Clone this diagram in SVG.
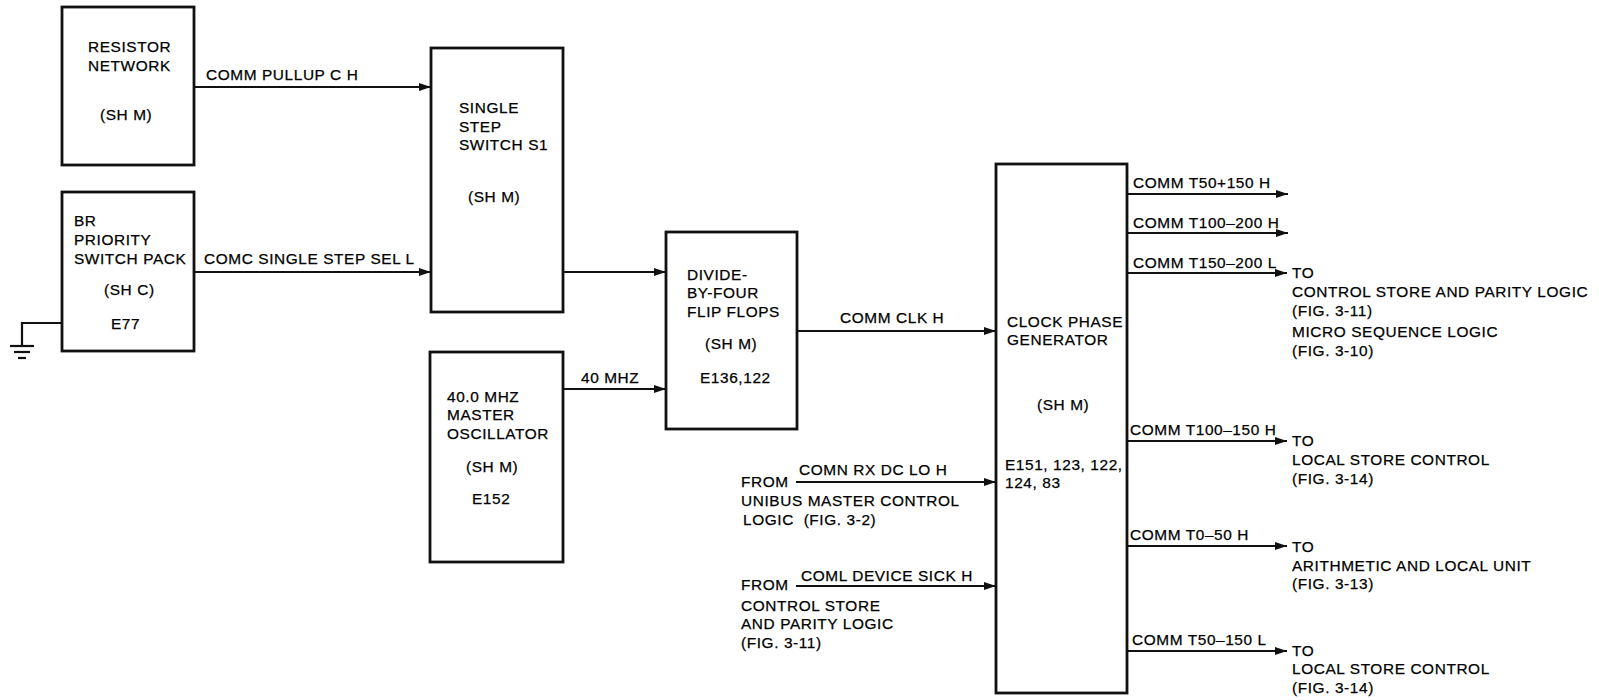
<svg xmlns="http://www.w3.org/2000/svg" width="1599" height="700" viewBox="0 0 1599 700">
<style>
text{font-family:"Liberation Sans",Arial,sans-serif;font-size:15.4px;letter-spacing:0.6px;fill:#000;stroke:#000;stroke-width:0.25}
.box{fill:#fff;stroke:#111;stroke-width:2.8}
.w{fill:none;stroke:#111;stroke-width:2.2}
</style>
<defs>
<marker id="ah" markerUnits="userSpaceOnUse" markerWidth="14" markerHeight="10" refX="12" refY="5" orient="auto">
<path d="M0,1 L12,5 L0,9 z" fill="#111"/>
</marker>
</defs>
<rect width="1599" height="700" fill="#fff"/>

<g id="connectors">
<line class="w" x1="194" y1="87" x2="431" y2="87" marker-end="url(#ah)"/>
<line class="w" x1="194" y1="272" x2="431" y2="272" marker-end="url(#ah)"/>
<line class="w" x1="563" y1="272" x2="666" y2="272" marker-end="url(#ah)"/>
<line class="w" x1="563" y1="389" x2="666" y2="389" marker-end="url(#ah)"/>
<line class="w" x1="797" y1="331" x2="996" y2="331" marker-end="url(#ah)"/>
<line class="w" x1="796" y1="482" x2="996" y2="482" marker-end="url(#ah)"/>
<line class="w" x1="796" y1="586" x2="996" y2="586" marker-end="url(#ah)"/>
<line class="w" x1="1127" y1="194" x2="1288" y2="194" marker-end="url(#ah)"/>
<line class="w" x1="1127" y1="233" x2="1288" y2="233" marker-end="url(#ah)"/>
<line class="w" x1="1127" y1="273" x2="1287" y2="273" marker-end="url(#ah)"/>
<line class="w" x1="1127" y1="441" x2="1287" y2="441" marker-end="url(#ah)"/>
<line class="w" x1="1127" y1="546" x2="1287" y2="546" marker-end="url(#ah)"/>
<line class="w" x1="1127" y1="651" x2="1287" y2="651" marker-end="url(#ah)"/>
<polyline class="w" points="62,323 22,323 22,346"/>
<line class="w" x1="10" y1="346" x2="34" y2="346"/>
<line class="w" x1="14" y1="352" x2="30" y2="352"/>
<line class="w" x1="18" y1="358" x2="26" y2="358"/>
</g>

<g id="labels">
<text x="206" y="80">COMM PULLUP C H</text>
<text x="204" y="264">COMC SINGLE STEP SEL L</text>
<text x="581" y="383">40 MHZ</text>
<text x="840" y="323">COMM CLK H</text>
<text x="799" y="475">COMN RX DC LO H</text>
<text x="741" y="487">FROM</text>
<text x="741" y="506">UNIBUS MASTER CONTROL</text>
<text x="743" y="525">LOGIC&#160; (FIG. 3-2)</text>
<text x="801" y="581">COML DEVICE SICK H</text>
<text x="741" y="590">FROM</text>
<text x="741" y="611">CONTROL STORE</text>
<text x="741" y="629">AND PARITY LOGIC</text>
<text x="741" y="648">(FIG. 3-11)</text>
<text x="1133" y="188">COMM T50+150 H</text>
<text x="1133" y="228">COMM T100–200 H</text>
<text x="1133" y="268">COMM T150–200 L</text>
<text x="1292" y="278">TO</text>
<text x="1292" y="297">CONTROL STORE AND PARITY LOGIC</text>
<text x="1292" y="316">(FIG. 3-11)</text>
<text x="1292" y="337">MICRO SEQUENCE LOGIC</text>
<text x="1292" y="356">(FIG. 3-10)</text>
<text x="1130" y="435">COMM T100–150 H</text>
<text x="1292" y="446">TO</text>
<text x="1292" y="465">LOCAL STORE CONTROL</text>
<text x="1292" y="484">(FIG. 3-14)</text>
<text x="1130" y="540">COMM T0–50 H</text>
<text x="1292" y="552">TO</text>
<text x="1292" y="571">ARITHMETIC AND LOCAL UNIT</text>
<text x="1292" y="589">(FIG. 3-13)</text>
<text x="1132" y="645">COMM T50–150 L</text>
<text x="1292" y="656">TO</text>
<text x="1292" y="674">LOCAL STORE CONTROL</text>
<text x="1292" y="693">(FIG. 3-14)</text>
</g>

<g id="resistor-network">
<rect class="box" x="62" y="7" width="132" height="158"/>
<text x="88" y="52">RESISTOR</text>
<text x="88" y="71">NETWORK</text>
<text x="100" y="120">(SH M)</text>
</g>

<g id="br-priority-switch-pack">
<rect class="box" x="62" y="192" width="132" height="159"/>
<text x="74" y="226">BR</text>
<text x="74" y="245">PRIORITY</text>
<text x="74" y="264">SWITCH PACK</text>
<text x="104" y="295">(SH C)</text>
<text x="111" y="329">E77</text>
</g>

<g id="single-step-switch">
<rect class="box" x="431" y="48" width="132" height="264"/>
<text x="459" y="113">SINGLE</text>
<text x="459" y="132">STEP</text>
<text x="459" y="150">SWITCH S1</text>
<text x="468" y="202">(SH M)</text>
</g>

<g id="master-oscillator">
<rect class="box" x="430" y="352" width="133" height="210"/>
<text x="447" y="402">40.0 MHZ</text>
<text x="447" y="420">MASTER</text>
<text x="447" y="439">OSCILLATOR</text>
<text x="466" y="472">(SH M)</text>
<text x="472" y="504">E152</text>
</g>

<g id="divide-by-four">
<rect class="box" x="666" y="232" width="131" height="197"/>
<text x="687" y="280">DIVIDE-</text>
<text x="687" y="298">BY-FOUR</text>
<text x="687" y="317">FLIP FLOPS</text>
<text x="705" y="349">(SH M)</text>
<text x="700" y="383">E136,122</text>
</g>

<g id="clock-phase-generator">
<rect class="box" x="996" y="164" width="131" height="529"/>
<text x="1007" y="327">CLOCK PHASE</text>
<text x="1007" y="345">GENERATOR</text>
<text x="1037" y="410">(SH M)</text>
<text x="1005" y="470">E151, 123, 122,</text>
<text x="1005" y="488">124, 83</text>
</g>
</svg>
